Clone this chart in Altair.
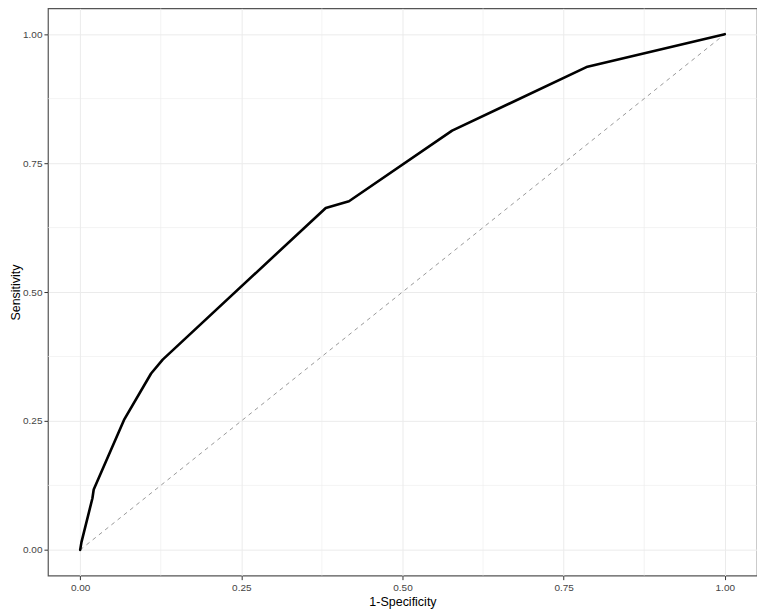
import altair as alt
import pandas as pd

# ROC curve points
fpr = [0.0, 0.002, 0.019, 0.021, 0.068, 0.110, 0.128, 0.381, 0.417, 0.577, 0.787, 1.0]
tpr = [0.0, 0.015, 0.100, 0.117, 0.252, 0.342, 0.369, 0.663, 0.676, 0.813, 0.937, 1.0]

diag = [0.0, 1.0]
major_breaks = [0.0, 0.25, 0.5, 0.75, 1.0]
minor_breaks = [0.125, 0.375, 0.625, 0.875]

roc_df = pd.DataFrame({"fpr": fpr, "tpr": tpr, "order": list(range(len(fpr)))})
diag_df = pd.DataFrame({"fpr": diag, "tpr": diag})
minor_df = pd.DataFrame({"v": minor_breaks})

dom = [-0.05, 1.05]
xs = alt.Scale(domain=dom, nice=False, zero=False)
ys = alt.Scale(domain=dom, nice=False, zero=False)

grid_col = "#EBEBEB"
font = "Liberation Sans"
lab_col = "#444444"

x_axis = alt.Axis(values=major_breaks, format=".2f", title="1-Specificity",
                  grid=True, gridColor=grid_col, gridWidth=1,
                  domain=False, ticks=True, tickColor="#333333", tickSize=4, tickWidth=1,
                  labelFont=font, labelFontSize=10, labelColor=lab_col, labelPadding=3,
                  titleFont=font, titleFontSize=12.5, titleFontWeight="normal", titleColor="#000000",
                  titlePadding=3)
y_axis = alt.Axis(values=major_breaks, format=".2f", title="Sensitivity",
                  grid=True, gridColor=grid_col, gridWidth=1,
                  domain=False, ticks=True, tickColor="#333333", tickSize=4, tickWidth=1,
                  labelFont=font, labelFontSize=10, labelColor=lab_col, labelPadding=2,
                  titleFont=font, titleFontSize=12.5, titleFontWeight="normal", titleColor="#000000",
                  titlePadding=0)

minor_x = alt.Chart(minor_df).mark_rule(color=grid_col, strokeWidth=0.6).encode(
    x=alt.X("v:Q", scale=xs, axis=x_axis))
minor_y = alt.Chart(minor_df).mark_rule(color=grid_col, strokeWidth=0.6).encode(
    y=alt.Y("v:Q", scale=ys, axis=y_axis))

diag_line = alt.Chart(diag_df).mark_line(color="#999999", strokeWidth=1, strokeDash=[4, 4]).encode(
    x=alt.X("fpr:Q", scale=xs, axis=x_axis),
    y=alt.Y("tpr:Q", scale=ys, axis=y_axis))

roc_line = alt.Chart(roc_df).mark_line(color="#000000", strokeWidth=2.6,
                                       strokeJoin="round", strokeCap="round").encode(
    x=alt.X("fpr:Q", scale=xs, axis=x_axis),
    y=alt.Y("tpr:Q", scale=ys, axis=y_axis),
    order="order:Q")

chart = alt.layer(minor_x, minor_y, diag_line, roc_line).properties(
    width=710, height=568,
    autosize=alt.AutoSizeParams(type="none"),
    padding={"left": 40, "top": 0, "right": 0, "bottom": 35},
    background="white",
).configure_view(stroke="#555555", strokeWidth=1.2)

chart.save("out.html", embed_options={"renderer": "svg", "actions": False})
